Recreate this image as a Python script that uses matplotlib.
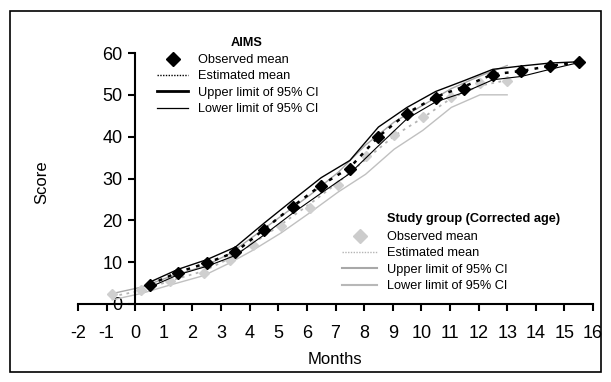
import numpy as np
import matplotlib
matplotlib.use("Agg")
import matplotlib.pyplot as plt
from matplotlib.lines import Line2D
from matplotlib.patches import Rectangle

plt.rcParams['font.family'] = ['Liberation Sans', 'DejaVu Sans']
plt.rcParams['axes.unicode_minus'] = False

# AIMS reference (months)
aims_x = [0.5, 1.5, 2.5, 3.5, 4.5, 5.5, 6.5, 7.5, 8.5, 9.5, 10.5, 11.5, 12.5, 13.5, 14.5, 15.5]
aims_obs = [4.5, 7.5, 9.7, 12.5, 17.7, 23.2, 28.3, 32.2, 40.0, 45.5, 49.2, 51.3, 54.7, 55.6, 56.8, 57.8]
aims_est = [4.6, 7.6, 9.8, 12.4, 17.8, 23.3, 28.4, 32.6, 40.0, 45.6, 49.5, 52.0, 54.9, 55.7, 56.9, 57.8]
aims_upper = [5.2, 8.3, 10.6, 13.6, 19.3, 24.8, 30.2, 34.3, 42.3, 47.0, 50.8, 53.4, 56.1, 56.9, 57.6, 57.9]
aims_lower = [4.0, 7.0, 9.0, 11.6, 16.5, 21.7, 26.5, 31.2, 37.8, 44.3, 48.3, 50.6, 53.6, 54.4, 56.1, 57.7]

# study group, corrected age
sg_x = [-0.8, 0.2, 1.2, 2.4, 3.3, 4.1, 5.1, 6.1, 7.1, 8.05, 9.05, 10.05, 11.05, 12.05, 13.0]
sg_obs = [2.3, 3.4, 5.4, 7.3, 10.4, 14.0, 18.7, 23.0, 28.5, 35.3, 40.5, 44.8, 49.6, 52.8, 53.4]
sg_est = [1.8, 3.2, 5.5, 7.9, 10.9, 14.4, 19.0, 23.9, 29.1, 34.5, 40.2, 44.5, 49.2, 52.2, 53.5]
sg_upper = [2.5, 4.0, 6.5, 9.0, 12.0, 16.0, 21.0, 26.0, 31.5, 38.0, 43.5, 47.5, 51.5, 54.5, 57.0]
sg_lower = [1.0, 2.5, 4.5, 6.8, 9.8, 12.8, 17.0, 21.8, 26.8, 31.0, 37.0, 41.5, 47.0, 50.0, 50.0]

W, H = 611, 382


def fx(px):
    return px / W


def fy(py):
    return 1 - py / H


fig = plt.figure(figsize=(W / 100, H / 100), dpi=100)
ax = fig.add_axes([fx(78), fy(304), fx(593) - fx(78), fy(53) - fy(304)])

# study group (gray)
ax.plot(sg_x, sg_upper, color="#a8a8a8", lw=1.0)
ax.plot(sg_x, sg_lower, color="#c0c0c0", lw=1.0)
ax.plot(sg_x, sg_est, color="#b4b4b4", lw=1.3, linestyle=(0, (1.5, 2.5)))
ax.plot(sg_x, sg_obs, linestyle="none", marker="D", markersize=5, color="#cfcfcf")

# AIMS (black)
ax.plot(aims_x, aims_upper, color="black", lw=1.0)
ax.plot(aims_x, aims_lower, color="black", lw=0.8)
ax.plot(aims_x, aims_est, color="black", lw=1.8, linestyle=(0, (1.5, 2.5)))
ax.plot(aims_x, aims_obs, linestyle="none", marker="D", markersize=6.5, color="black")

ax.set_xlim(-2, 16)
ax.set_ylim(0, 60)
ax.set_xticks(range(-2, 17))
ax.set_yticks(range(0, 61, 10))
ax.spines['left'].set_position(('data', 0))
ax.spines['bottom'].set_position(('data', 0))
ax.spines['top'].set_visible(False)
ax.spines['right'].set_visible(False)
for s in ['left', 'bottom']:
    ax.spines[s].set_linewidth(1.5)
ax.tick_params(axis='x', direction='out', length=5, width=1.5, pad=10, labelsize=13)
ax.tick_params(axis='y', direction='out', length=5, width=1.5, pad=4, labelsize=13)
ax.patch.set_alpha(0)

fig.text(fx(42), fy(182), "Score", rotation=90, ha="center", va="center", fontsize=12)
fig.text(fx(335), fy(359), "Months", ha="center", va="center", fontsize=12)

# legends
fs = 9.2
fs_px = fs * 100 / 72

h_aims = [
    Line2D([], [], linestyle="none", marker="D", markersize=7, color="black"),
    Line2D([], [], color="black", lw=1.0, linestyle=(0, (1, 1))),
    Line2D([], [], color="black", lw=2.0),
    Line2D([], [], color="black", lw=0.9),
]
labels = ["Observed mean", "Estimated mean", "Upper limit of 95% CI", "Lower limit of 95% CI"]
leg1 = fig.legend(h_aims, labels, loc="upper left", bbox_to_anchor=(fx(157), fy(54)),
                  frameon=False, fontsize=fs, borderpad=0, borderaxespad=0,
                  handlelength=31 / fs_px, handletextpad=10 / fs_px, labelspacing=0.35)
fig.text(fx(247), fy(43), "AIMS", ha="center", va="center", fontsize=fs, fontweight="bold")

h_sg = [
    Line2D([], [], linestyle="none", marker="D", markersize=7, color="#cccccc"),
    Line2D([], [], color="#b4b4b4", lw=1.0, linestyle=(0, (1, 1))),
    Line2D([], [], color="#a8a8a8", lw=1.5),
    Line2D([], [], color="#b8b8b8", lw=1.5),
]
leg2 = fig.legend(h_sg, labels, loc="upper left", bbox_to_anchor=(fx(342), fy(231)),
                  frameon=False, fontsize=fs, borderpad=0, borderaxespad=0,
                  handlelength=35 / fs_px, handletextpad=10 / fs_px, labelspacing=0.35)
fig.text(fx(387), fy(219), "Study group (Corrected age)", ha="left", va="center",
         fontsize=fs, fontweight="bold")

fig.patches.append(Rectangle((fx(10), fy(372)), fx(601) - fx(10), fy(11) - fy(372),
                             transform=fig.transFigure, fill=False, edgecolor="black", lw=1.2))

fig.savefig("out.png", dpi=100)
